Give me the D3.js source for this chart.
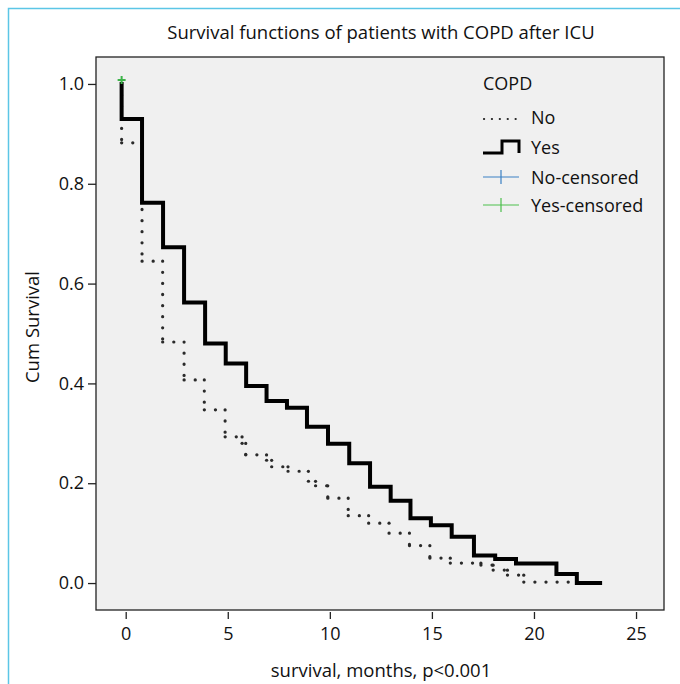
<!DOCTYPE html>
<html><head><meta charset="utf-8">
<script src="https://cdn.jsdelivr.net/npm/d3@7"></script>
<style>body{margin:0;background:#fff;}svg{display:block;font-family:"Open Sans",sans-serif;}</style>
</head><body>
<svg id="chart" width="680" height="684"></svg>
<script>
// ---- data ----
const title = "Survival functions of patients with COPD after ICU";
const xLabel = "survival, months, p<0.001";
const yLabel = "Cum Survival";
const xTicks = [0, 5, 10, 15, 20, 25];
const yTicks = [0.0, 0.2, 0.4, 0.6, 0.8, 1.0];
const legendTitle = "COPD";
const legendLabels = ["No", "Yes", "No-censored", "Yes-censored"];
// Kaplan-Meier steps (time, survival after step)
const yesTimes = [-0.2, -0.2, 0.8, 1.83, 2.86, 3.89, 4.9, 5.9, 6.9, 7.9, 8.88, 9.91, 10.95, 11.97, 12.98, 13.95, 14.95, 15.97, 17.06, 18.1, 19.12, 21.1, 22.1, 23.24];
const yesSurv  = [1.0, 0.93, 0.762, 0.673, 0.562, 0.48, 0.44, 0.395, 0.365, 0.351, 0.313, 0.279, 0.240, 0.193, 0.165, 0.13, 0.116, 0.093, 0.055, 0.048, 0.039, 0.018, 0.0, 0.0];
const noTimes = [-0.2, -0.2, 0.8, 1.81, 2.86, 3.85, 4.87, 5.7, 5.88, 6.9, 7.15, 7.95, 8.95, 9.3, 9.9, 10.9, 11.9, 12.9, 13.9, 14.9, 15.9, 17.4, 18.0, 18.7, 19.5, 22.0];
const noSurv  = [1.0, 0.882, 0.645, 0.483, 0.407, 0.347, 0.293, 0.28, 0.257, 0.246, 0.233, 0.224, 0.204, 0.195, 0.17, 0.135, 0.12, 0.10, 0.075, 0.05, 0.04, 0.036, 0.026, 0.016, 0.002, 0.002];
const yesCensored = [{t: -0.2, s: 1.0}];

// ---- layout ----
const svg = d3.select("#chart");
const plot = {left: 96, right: 664, top: 57, bottom: 610};
const x = d3.scaleLinear().domain([-1.455, 26.37]).range([plot.left, plot.right]);
const y = d3.scaleLinear().domain([-0.054, 1.054]).range([plot.bottom, plot.top]);

// outer light-blue frame
svg.append("path").attr("d", "M8.5,684 L8.5,8.5 L680,8.5").attr("fill", "none").attr("stroke", "#5cc6e6").attr("stroke-width", 1.5);

svg.append("text").attr("x", 381).attr("y", 39).attr("text-anchor", "middle")
  .attr("font-size", 18.5).attr("fill", "#111").text(title);

svg.append("rect").attr("x", plot.left).attr("y", plot.top)
  .attr("width", plot.right - plot.left).attr("height", plot.bottom - plot.top)
  .attr("fill", "#f0f0f0").attr("stroke", "#222").attr("stroke-width", 1.3);

// x axis
const xa = svg.append("g").attr("transform", `translate(0,${plot.bottom + 2})`)
  .call(d3.axisBottom(x).tickValues(xTicks).tickSize(7).tickPadding(8).tickFormat(d3.format("d")));
xa.select(".domain").remove();
xa.selectAll("line").attr("stroke", "#222").attr("stroke-width", 1.3);
xa.selectAll("text").attr("font-size", 18).attr("fill", "#111").attr("font-family", "Open Sans");

// y axis
const ya = svg.append("g").attr("transform", `translate(${plot.left},0)`)
  .call(d3.axisLeft(y).tickValues(yTicks).tickSize(8).tickPadding(4).tickFormat(d3.format(".1f")));
ya.select(".domain").remove();
ya.selectAll("line").attr("stroke", "#222").attr("stroke-width", 1.3);
ya.selectAll("text").attr("font-size", 18).attr("fill", "#111").attr("font-family", "Open Sans");

svg.append("text").attr("x", 381).attr("y", 677).attr("text-anchor", "middle")
  .attr("font-size", 18.5).attr("fill", "#111").text(xLabel);
svg.append("text").attr("transform", "translate(39,327) rotate(-90)").attr("text-anchor", "middle")
  .attr("font-size", 18.5).attr("fill", "#111").text(yLabel);

// curves
const line = d3.line().x(d => x(d[0])).y(d => y(d[1])).curve(d3.curveStepAfter);
const noData = noTimes.map((t, i) => [t, noSurv[i]]);
const yesData = yesTimes.map((t, i) => [t, yesSurv[i]]);
// dotted "No" curve: each step segment drawn separately so the dot pattern restarts at every corner
const noSegs = [];
for (let i = 0; i < noData.length - 1; i++) {
  const [t0, s0] = noData[i], [t1, s1] = noData[i + 1];
  if (t1 > t0) noSegs.push([[t0, s0], [t1, s0]]);
  if (s1 !== s0) noSegs.push([[t1, s0], [t1, s1]]);
}
const segLine = d3.line().x(d => x(d[0])).y(d => y(d[1]));
svg.append("g").selectAll("path").data(noSegs).join("path")
  .attr("d", segLine).attr("fill", "none").attr("stroke", "#2a2a2a")
  .attr("stroke-width", 3.2).attr("stroke-linecap", "round").attr("stroke-dasharray", "0.1,11");
svg.append("path").attr("d", line(yesData)).attr("fill", "none").attr("stroke", "#000")
  .attr("stroke-width", 4).attr("stroke-linejoin", "miter").attr("stroke-linecap", "square");

// censored marks
yesCensored.forEach(d => {
  const cx = x(d.t), cy = y(d.s) - 4;
  svg.append("path").attr("d", `M${cx - 4},${cy} H${cx + 4} M${cx},${cy - 4} V${cy + 4}`)
    .attr("stroke", "#3db34a").attr("stroke-width", 2);
});

// legend
const lg = svg.append("g");
lg.append("text").attr("x", 483).attr("y", 90).attr("font-size", 18).attr("fill", "#111").text(legendTitle);
const rowsY = [117, 147, 177, 205];
legendLabels.forEach((lab, i) => {
  lg.append("text").attr("x", 531).attr("y", rowsY[i] + 6.5).attr("font-size", 18).attr("fill", "#111").text(lab);
});
lg.append("line").attr("x1", 484).attr("x2", 523).attr("y1", 119).attr("y2", 119)
  .attr("stroke", "#222").attr("stroke-width", 2.2).attr("stroke-linecap", "round").attr("stroke-dasharray", "0.1,7.8");
lg.append("path").attr("d", "M483,153 H502 V141 H519 V153").attr("fill", "none").attr("stroke", "#000").attr("stroke-width", 3);
lg.append("path").attr("d", "M483,177 H519 M501,170 V184").attr("stroke", "#3a80c4").attr("stroke-width", 1.2);
lg.append("path").attr("d", "M483,205 H519 M501,198 V212").attr("stroke", "#4cbf4c").attr("stroke-width", 1.2);
</script>
</body></html>
